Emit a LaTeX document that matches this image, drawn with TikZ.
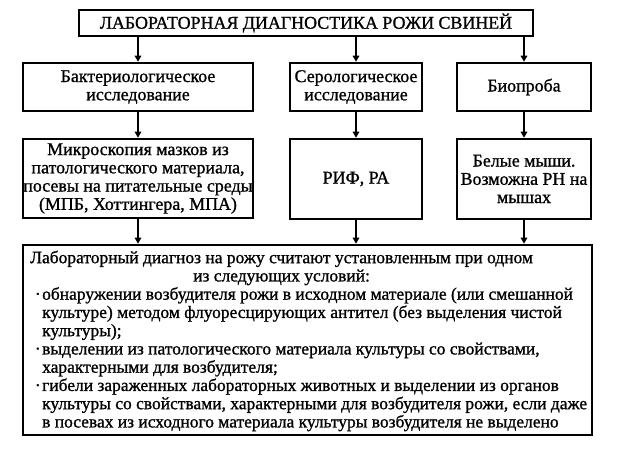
\documentclass[tikz,border=0pt]{standalone}
\usepackage{fontspec}
\setmainfont{Liberation Serif}[RawFeature={embolden=1.0}]
\usetikzlibrary{arrows.meta}
\newsavebox\hdrbox
\newcommand\bodyind{\hspace*{12pt}}
\newcommand\bodydot{\hspace*{12pt}\llap{·\hspace{1.5pt}}}
\begin{document}
\begin{tikzpicture}[x=1pt,y=-1pt,
  txt/.style={font=\fontsize{17.9}{18.25}\selectfont},
  bodytxt/.style={font=\fontsize{17.45}{18.25}\selectfont},
  box/.style={draw,line width=2.6pt,inner sep=0pt,align=center,txt},
  arr/.style={line width=2.4pt,-{Triangle[length=6pt,width=6.5pt]}}]
\useasboundingbox[fill=white] (0,0) rectangle (620,451);
\node[box,minimum width=454pt,minimum height=26pt] (title) at (306,23) {ЛАБОРАТОРНАЯ ДИАГНОСТИКА РОЖИ СВИНЕЙ};
\node[box,minimum width=230pt,minimum height=48pt] (b1) at (138,87) {Бактериологическое\\исследование};
\node[box,minimum width=132pt,minimum height=48pt] (b2) at (356,87) {Серологическое\\исследование};
\node[box,minimum width=134pt,minimum height=48pt] (b3) at (524,87) {Биопроба};
\node[box,minimum width=230pt,minimum height=79pt] (c1) at (138,178.5) {Микроскопия мазков из\\патологического материала,\\посевы на питательные среды\\(МПБ, Хоттингера, МПА)};
\node[box,minimum width=132pt,minimum height=80pt] (c2) at (356,179) {РИФ, РА};
\node[box,minimum width=134pt,minimum height=80pt] (c3) at (524,179) {Белые мыши.\\Возможна РН на\\мышах};
\node[box,minimum width=569pt,minimum height=190pt] (big) at (307.5,340) {};
\node[bodytxt,anchor=north west,inner sep=0pt,align=left] (body) at (30,250.5) {%
\global\setbox\hdrbox\hbox{Лабораторный диагноз на рожу считают установленным при одном}\copy\hdrbox\\
\makebox[\wd\hdrbox]{из следующих условий:}\\
\bodydot обнаружении возбудителя рожи в исходном материале (или смешанной\\
\bodyind культуре) методом флуоресцирующих антител (без выделения чистой\\
\bodyind культуры);\\
\bodydot выделении из патологического материала культуры со свойствами,\\
\bodyind характерными для возбудителя;\\
\bodydot гибели зараженных лабораторных животных и выделении из органов\\
\bodyind культуры со свойствами, характерными для возбудителя рожи, если даже\\
\bodyind в посевах из исходного материала культуры возбудителя не выделено};
\foreach \b in {b1,b2,b3} \draw[arr] (title.south -| \b.north) -- (\b.north);
\foreach \b/\c in {b1/c1,b2/c2,b3/c3} \draw[arr] (\b.south) -- (\c.north);
\foreach \c in {c1,c2,c3} \draw[arr] (\c.south) -- (\c.south |- big.north);
\end{tikzpicture}
\end{document}
